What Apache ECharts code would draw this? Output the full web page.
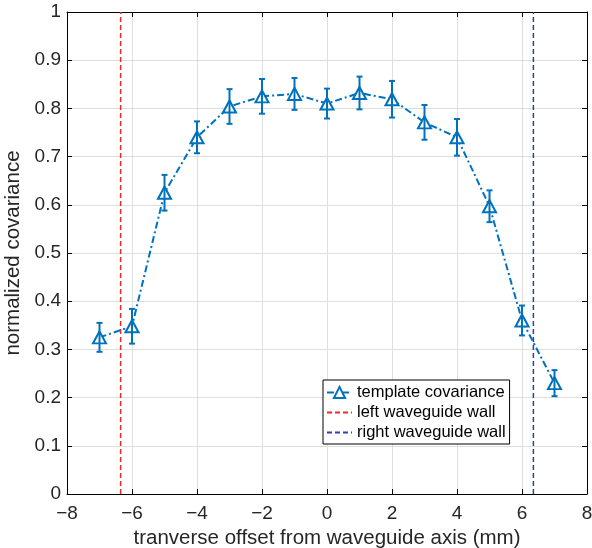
<!DOCTYPE html>
<html>
<head>
<meta charset="utf-8">
<script src="https://cdn.jsdelivr.net/npm/echarts@6/dist/echarts.min.js"></script>
<style>html,body{margin:0;padding:0;background:#fff}#c{width:592px;height:548px}</style>
</head>
<body>
<div id="c"></div>
<script>
const xVals = [-7, -6, -5, -4, -3, -2, -1, 0, 1, 2, 3, 4, 5, 6, 7];
const yVals = [0.325, 0.348, 0.625, 0.740, 0.804, 0.825, 0.830, 0.810, 0.832, 0.819, 0.771, 0.740, 0.597, 0.360, 0.230];
const yErr  = [0.030, 0.036, 0.037, 0.033, 0.036, 0.036, 0.033, 0.031, 0.034, 0.038, 0.036, 0.038, 0.033, 0.031, 0.027];
const leftWall = -6.35;
const rightWall = 6.35;
const seriesNames = ['template covariance', 'left waveguide wall', 'right waveguide wall'];
const xName = 'tranverse offset from waveguide axis (mm)';
const yName = 'normalized covariance';

const FONT = '"Liberation Sans", Arial, Helvetica, sans-serif';
const BLUE = '#0072BD';
const mainData = xVals.map((x, i) => [x, yVals[i]]);
const errData = xVals.map((x, i) => [x, yVals[i] - yErr[i], yVals[i] + yErr[i]]);
const fmtMinus = v => String(v).replace('-', '\u2212');

const chart = echarts.init(document.getElementById('c'), null, {renderer: 'canvas'});
const axisCommon = {
  axisLine: {show: true, onZero: false, lineStyle: {color: '#000', width: 1}},
  axisTick: {show: true, inside: true, length: 5, lineStyle: {color: '#000'}},
};
chart.setOption({
  animation: false,
  backgroundColor: '#fff',
  grid: {left: 67, right: 5, top: 12, bottom: 54, containLabel: false, outerBoundsMode: 'none'},
  xAxis: [
    Object.assign({
      type: 'value', min: -8, max: 8, interval: 2, position: 'bottom',
      name: xName, nameLocation: 'middle', nameGap: 29,
      nameTextStyle: {fontFamily: FONT, fontSize: 20.5, color: '#262626'},
      axisLabel: {fontFamily: FONT, fontSize: 19, color: '#262626', margin: 10, formatter: fmtMinus},
      splitLine: {show: true, lineStyle: {color: '#dedede', width: 1}}
    }, axisCommon),
    Object.assign({
      type: 'value', min: -8, max: 8, interval: 2, position: 'top',
      axisLabel: {show: false}, splitLine: {show: false}
    }, axisCommon)
  ],
  yAxis: [
    Object.assign({
      type: 'value', min: 0, max: 1, interval: 0.1, position: 'left',
      name: yName, nameLocation: 'middle', nameGap: 39,
      nameTextStyle: {fontFamily: FONT, fontSize: 20.5, color: '#262626'},
      axisLabel: {fontFamily: FONT, fontSize: 19, color: '#262626', margin: 6,
        formatter: v => (Math.abs(v) < 1e-9 ? '0' : Math.abs(v - 1) < 1e-9 ? '1' : v.toFixed(1))},
      splitLine: {show: true, lineStyle: {color: '#dedede', width: 1}}
    }, axisCommon),
    Object.assign({
      type: 'value', min: 0, max: 1, interval: 0.1, position: 'right',
      axisLabel: {show: false}, splitLine: {show: false}
    }, axisCommon)
  ],
  legend: {
    orient: 'vertical', left: 323, top: 380,
    data: seriesNames,
    backgroundColor: '#fff', borderColor: '#000', borderWidth: 1,
    padding: [4, 4, 3, 3], itemGap: 3, itemWidth: 25, itemHeight: 14,
    textStyle: {fontFamily: FONT, fontSize: 16.5, color: '#000'}
  },
  series: [
    {
      name: seriesNames[0], type: 'line', data: mainData,
      xAxisIndex: 0, yAxisIndex: 0,
      symbol: 'emptyTriangle', symbolSize: [13, 12],
      lineStyle: {color: BLUE, width: 2, type: [7, 3, 2, 3]},
      itemStyle: {color: BLUE, borderWidth: 2},
      z: 3
    },
    {
      type: 'custom', name: 'errorbars', data: errData,
      xAxisIndex: 0, yAxisIndex: 0, z: 4, silent: true,
      encode: {x: 0, y: [1, 2]},
      renderItem: function (params, api) {
        const x = api.value(0);
        const lo = api.coord([x, api.value(1)]);
        const hi = api.coord([x, api.value(2)]);
        const hw = 3;
        const st = {stroke: BLUE, lineWidth: 2, fill: null};
        return {
          type: 'group',
          children: [
            {type: 'line', shape: {x1: lo[0], y1: lo[1], x2: hi[0], y2: hi[1]}, style: st},
            {type: 'line', shape: {x1: lo[0] - hw, y1: lo[1], x2: lo[0] + hw, y2: lo[1]}, style: st},
            {type: 'line', shape: {x1: hi[0] - hw, y1: hi[1], x2: hi[0] + hw, y2: hi[1]}, style: st}
          ]
        };
      }
    },
    {
      name: seriesNames[1], type: 'line', data: [[leftWall, 0], [leftWall, 1]],
      symbol: 'none', lineStyle: {color: '#ff2424', width: 1.5, type: [5, 3]},
      itemStyle: {color: '#ff2424', opacity: 0}, z: 2
    },
    {
      name: seriesNames[2], type: 'line', data: [[rightWall, 0], [rightWall, 1]],
      symbol: 'none', lineStyle: {color: '#2f3fab', width: 1.5, type: [5, 3]},
      itemStyle: {color: '#2f3fab', opacity: 0}, z: 2
    }
  ]
});
</script>
</body>
</html>
